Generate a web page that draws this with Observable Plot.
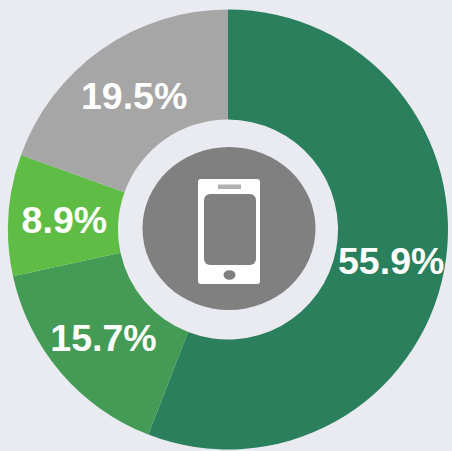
<!DOCTYPE html>
<html>
<head>
<meta charset="utf-8">
<script src="https://cdn.jsdelivr.net/npm/d3@7"></script>
<script src="https://cdn.jsdelivr.net/npm/@observablehq/plot@0.6"></script>
<style>
html,body{margin:0;padding:0;background:#e9ebf1;overflow:hidden}
svg{display:block}
</style>
</head>
<body>
<div id="chart"></div>
<script>
const categories = ["a", "b", "c", "d"];
const shares = [55.9, 15.7, 8.9, 19.5];
const labels = ["55.9%", "15.7%", "8.9%", "19.5%"];
const colors = ["#2a7f5c", "#439b55", "#5fbd45", "#a6a6a6"];

let running = 0;
const slices = shares.map((v, i) => {
  const s = {category: categories[i], start: running, end: running + v, label: labels[i]};
  running += v;
  return s;
});

const W = 452, H = 451, cx = 228, cy = 229.5, outer = 220, inner = 110, labelR = 165;

const donut = (index, scales, values) => {
  const g = d3.create("svg:g").attr("transform", `translate(${cx},${cy})`);
  const arc = d3.arc().innerRadius(inner).outerRadius(outer);
  for (const i of index) {
    g.append("path")
      .attr("d", arc({startAngle: values.x1[i], endAngle: values.x2[i]}))
      .attr("fill", values.fill ? values.fill[i] : scales.color(slices[i].category));
  }
  return g.node();
};

const polarText = (index, scales, values, dimensions, context, next) => {
  const g = next(index, scales, values, dimensions, context);
  d3.select(g).selectAll("text").attr("transform", i => {
    const a = values.x[i];
    return `translate(${cx + 0.5 + labelR * Math.sin(a)},${cy + 1.5 - labelR * Math.cos(a)})`;
  });
  return g;
};

const phone = () => {
  const svg = d3.create("svg:g");
  const defs = svg.append("defs");
  defs.append("filter").attr("id", "soft").append("feGaussianBlur").attr("stdDeviation", 0.7);
  svg.append("ellipse").attr("cx", 229).attr("cy", 228.5).attr("rx", 86.5).attr("ry", 81.5).attr("fill", "#808080");
  const p = svg.append("g").attr("filter", "url(#soft)");
  p.append("rect").attr("x", 198).attr("y", 179).attr("width", 62).attr("height", 105).attr("rx", 3).attr("fill", "#ffffff");
  p.append("rect").attr("x", 204).attr("y", 194).attr("width", 52).attr("height", 71).attr("rx", 6).attr("fill", "#808080");
  p.append("rect").attr("x", 218).attr("y", 184.5).attr("width", 23).attr("height", 4.5).attr("fill", "#b0b0b0");
  p.append("ellipse").attr("cx", 229.5).attr("cy", 275).attr("rx", 6).attr("ry", 4.8).attr("fill", "#808080");
  return svg.node();
};

const chart = Plot.plot({
  width: W,
  height: H,
  margin: 0,
  style: {background: "#e9ebf1"},
  x: {domain: [0, 100], range: [0, 2 * Math.PI], axis: null},
  color: {domain: categories, range: colors},
  marks: [
    Plot.barX(slices, {x1: "start", x2: "end", fill: "category", render: donut}),
    phone,
    Plot.text(slices, {
      x: d => (d.start + d.end) / 2,
      text: "label",
      fill: "#ffffff",
      fontFamily: "Liberation Sans",
      fontWeight: "bold",
      fontSize: 37.5,
      render: polarText
    })
  ]
});
document.getElementById("chart").append(chart);
</script>
</body>
</html>
